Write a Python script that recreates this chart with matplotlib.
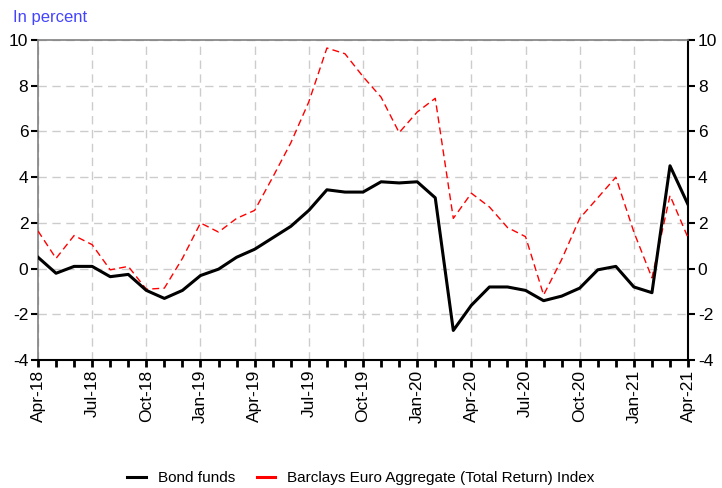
import matplotlib
matplotlib.use("Agg")
import matplotlib.pyplot as plt
import pandas as pd
from matplotlib.lines import Line2D

plt.rcParams["font.family"] = ["Liberation Sans", "DejaVu Sans"]
plt.rcParams["axes.unicode_minus"] = False

# ── Data (monthly, Apr-18 .. Apr-21) ───────────────────────────────────────
months = pd.date_range("2018-04-01", "2021-04-01", freq="MS")
bond_funds = [0.5, -0.2, 0.1, 0.1, -0.35, -0.25, -0.95, -1.3, -0.95,
              -0.3, -0.02, 0.5, 0.85, 1.35, 1.85, 2.55, 3.45, 3.35, 3.35,
              3.8, 3.75, 3.8, 3.1, -2.7, -1.6, -0.8, -0.8, -0.95, -1.4,
              -1.2, -0.85, -0.05, 0.1, -0.8, -1.05, 4.5, 2.8]
barclays = [1.65, 0.45, 1.45, 1.05, -0.05, 0.1, -0.9, -0.85, 0.45,
            2.0, 1.6, 2.2, 2.55, 4.0, 5.5, 7.3, 9.65, 9.4, 8.4,
            7.5, 5.95, 6.85, 7.45, 2.2, 3.3, 2.7, 1.8, 1.4, -1.15,
            0.4, 2.2, 3.1, 4.0, 1.6, -0.4, 3.2, 1.35]
labels = [m.strftime("%b-%y") for m in months]

BLACK = "#000000"
RED = "#ff0000"
GRID = "#cccccc"

fig = plt.figure(figsize=(7.22, 4.88), dpi=100)
ax = fig.add_axes([0.0526, 0.262, 0.9004, 0.656])

x = list(range(len(months)))
ax.plot(x, barclays, color=RED, lw=1.0, ls=(0, (5, 3)), zorder=3)
ax.plot(x, bond_funds, color=BLACK, lw=2.2, zorder=4)

ax.set_xlim(0, len(months) - 1)
ax.set_ylim(-4, 10)
ax.set_yticks(range(-4, 11, 2))
ax.set_xticks(x[::3])
ax.set_xticklabels(labels[::3], rotation=90, fontsize=12.5)
ax.set_xticks(x, minor=True)
ax.tick_params(axis="x", which="both", length=5, width=2, color=BLACK, pad=2)
ax.tick_params(axis="y", labelsize=12.5, length=5, width=1.5, pad=2)
ax.tick_params(axis="y", which="both", right=True, labelright=True)

ax.grid(True, color=GRID, ls=(0, (6, 4)), lw=1.0)
ax.set_axisbelow(True)

for s in ("top", "left"):
    ax.spines[s].set_color("#808080")
    ax.spines[s].set_linewidth(1.2)
for s in ("bottom", "right"):
    ax.spines[s].set_color(BLACK)
    ax.spines[s].set_linewidth(1.5)

fig.text(0.018, 0.965, "In percent", color="#4444ff", fontsize=12,
         ha="left", va="center")

handles = [Line2D([], [], color=BLACK, lw=2.2),
           Line2D([], [], color=RED, lw=2.2)]
fig.legend(handles, ["Bond funds",
                     "Barclays Euro Aggregate (Total Return) Index"],
           loc="center", bbox_to_anchor=(0.5, 0.02), ncol=2, frameon=False,
           fontsize=11, handlelength=1.2, columnspacing=1.4)

fig.savefig("out.png", dpi=100)
